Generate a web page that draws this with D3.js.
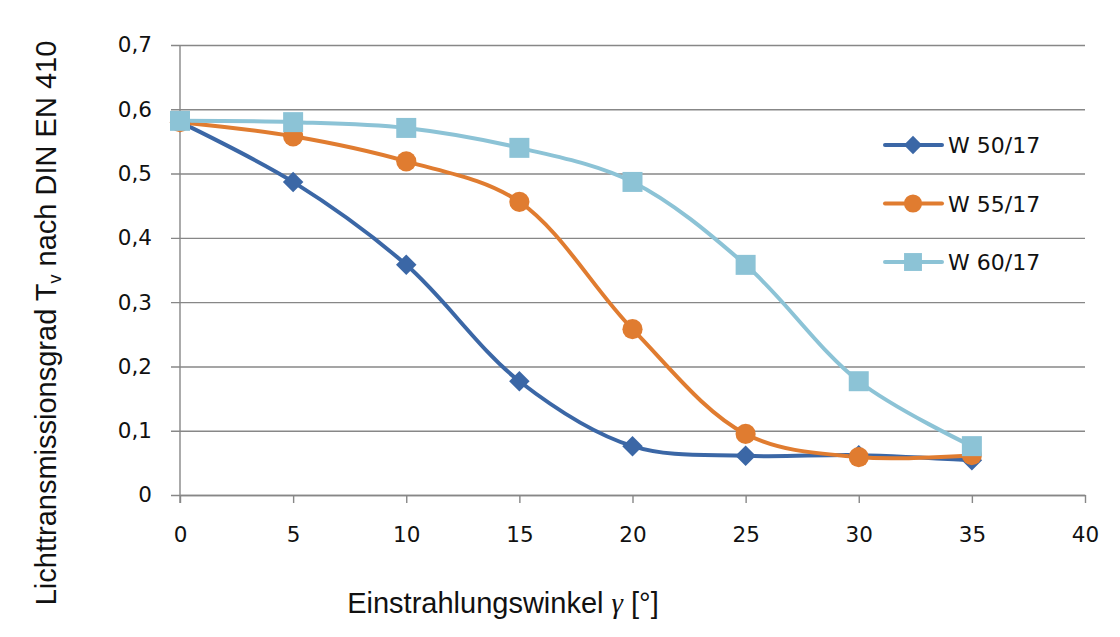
<!DOCTYPE html>
<html>
<head>
<meta charset="utf-8">
<script src="https://cdn.jsdelivr.net/npm/d3@7"></script>
<style>
  body { margin: 0; background: #fff; }
  svg text { fill: #111; }
</style>
</head>
<body>
<svg id="chart" width="1120" height="637"></svg>
<script>
"use strict";

// data
var angles   = [0, 5, 10, 15, 20, 25, 30, 35];
var w50      = [0.58, 0.487, 0.358, 0.177, 0.076, 0.061, 0.062, 0.054];
var w55      = [0.58, 0.558, 0.519, 0.456, 0.258, 0.095, 0.059, 0.062];
var w60      = [0.582, 0.580, 0.571, 0.540, 0.487, 0.358, 0.177, 0.076];
var seriesNames = ["W 50/17", "W 55/17", "W 60/17"];
var xTicks   = [0, 5, 10, 15, 20, 25, 30, 35, 40];
var yTicks   = [0, 0.1, 0.2, 0.3, 0.4, 0.5, 0.6, 0.7];

var colours = ["#3b67a6", "#e07c30", "#8cc3d6"];
// diamond is a square turned by 45 degrees, like excel draws it
var shapes  = [d3.symbolSquare, d3.symbolCircle, d3.symbolSquare];
var shapeSize = [210, 320, 400];
var shapeRot  = [45, 0, 0];

var svg = d3.select("#chart");
var plot = { x: 180, y: 45, w: 905, h: 450 };

var x = d3.scaleLinear().domain([0, 40]).range([plot.x, plot.x + plot.w]);
var y = d3.scaleLinear().domain([0, 0.7]).range([plot.y + plot.h, plot.y]);

var tickFont = "'DejaVu Sans', sans-serif";
var gridCol = "#878787";

// horizontal grid lines (excel style, with a small tick out to the left)
svg.append("g")
  .attr("transform", "translate(" + plot.x + ",0)")
  .call(d3.axisLeft(y).tickValues(yTicks)
        .tickSize(-plot.w).tickSizeOuter(0).tickPadding(28)
        .tickFormat(function(d) { return d === 0 ? "0" : d3.format(".1f")(d).replace(".", ","); }))
  .call(function(g) {
    g.select(".domain").remove();
    g.selectAll(".tick line").attr("stroke", gridCol).attr("stroke-width", 1.4)
      .attr("x2", plot.w).attr("x1", -9);
    g.selectAll(".tick text").style("font-family", tickFont).style("font-size", "21.5px")
      .attr("fill", "#111");
  });

// y axis line
svg.append("line")
  .attr("x1", plot.x).attr("x2", plot.x)
  .attr("y1", plot.y).attr("y2", plot.y + plot.h + 8)
  .attr("stroke", gridCol).attr("stroke-width", 1.4);

// x axis
svg.append("g")
  .attr("transform", "translate(0," + (plot.y + plot.h) + ")")
  .call(d3.axisBottom(x).tickValues(xTicks).tickSize(8).tickSizeOuter(0).tickPadding(24))
  .call(function(g) {
    g.select(".domain").attr("stroke", gridCol).attr("stroke-width", 1.4);
    g.selectAll(".tick line").attr("stroke", gridCol).attr("stroke-width", 1.4);
    g.selectAll(".tick text").style("font-family", tickFont).style("font-size", "21.5px")
      .attr("fill", "#111");
  });

// the curves
var allSeries = [w50, w55, w60];
var line = d3.line()
  .x(function(d, i) { return x(angles[i]); })
  .y(function(d) { return y(d); })
  .curve(d3.curveCatmullRom.alpha(0.5));

allSeries.forEach(function(vals, s) {
  svg.append("path")
    .datum(vals)
    .attr("d", line)
    .attr("fill", "none")
    .attr("stroke", colours[s])
    .attr("stroke-width", 4);
});

allSeries.forEach(function(vals, s) {
  svg.append("g").selectAll("path")
    .data(vals).enter()
    .append("path")
      .attr("transform", function(d, i) {
        return "translate(" + x(angles[i]) + "," + y(d) + ") rotate(" + shapeRot[s] + ")";
      })
      .attr("d", d3.symbol().type(shapes[s]).size(shapeSize[s]))
      .attr("fill", colours[s]);
});

// legend
var legend = svg.append("g").attr("transform", "translate(885,145)");
seriesNames.forEach(function(name, s) {
  var row = legend.append("g").attr("transform", "translate(0," + (s * 58.5) + ")");
  row.append("line").attr("x1", 0).attr("x2", 57).attr("y1", 0).attr("y2", 0)
    .attr("stroke", colours[s]).attr("stroke-width", 4).attr("stroke-linecap", "round");
  row.append("path").attr("transform", "translate(28,0) rotate(" + shapeRot[s] + ")")
    .attr("d", d3.symbol().type(shapes[s]).size(shapeSize[s] * 0.8))
    .attr("fill", colours[s]);
  row.append("text").attr("x", 63).attr("y", 8)
    .style("font-family", tickFont).style("font-size", "22px")
    .text(name);
});

// axis titles
var titleFont = "'Liberation Sans', Arial, sans-serif";
var xt = svg.append("text")
  .attr("x", 503).attr("y", 613)
  .attr("text-anchor", "middle")
  .style("font-family", titleFont).style("font-size", "29px");
xt.append("tspan").text("Einstrahlungswinkel ");
xt.append("tspan").style("font-style", "italic").style("font-family", "'Liberation Serif', serif").text("γ");
xt.append("tspan").text(" [°]");

var yt = svg.append("text")
  .attr("transform", "translate(56,323) rotate(-90)")
  .attr("text-anchor", "middle")
  .style("font-family", titleFont).style("font-size", "29px");
yt.append("tspan").text("Lichttransmissionsgrad T");
yt.append("tspan").attr("dy", 5).style("font-size", "18px").text("v");
yt.append("tspan").attr("dy", -5).text(" nach DIN EN 410");
</script>
</body>
</html>
